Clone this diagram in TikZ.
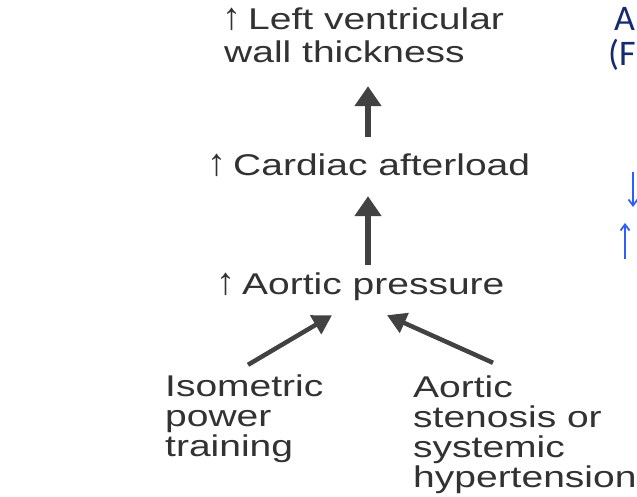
\documentclass[tikz,border=0pt]{standalone}
\usepackage{fontspec}
\setmainfont{Liberation Sans}[FakeStretch=1.3]
\newfontfamily\arrowfont{Liberation Sans}
\newfontfamily\slidefont{Carlito}
\usetikzlibrary{arrows.meta,calc}
\definecolor{ink}{RGB}{50,50,50}
\definecolor{arrowink}{RGB}{66,66,66}
\definecolor{navy}{RGB}{22,42,112}
\definecolor{brightblue}{RGB}{45,95,255}
\newcommand\upar{\makebox[26pt][l]{\arrowfont\fontsize{38}{38}\selectfont ↑}}
\tikzset{
  lbl/.style={anchor=base west, inner sep=0pt, text height=21pt, text depth=0pt,
    text=ink, font=\fontsize{30}{30}\selectfont},
  bigarrow/.style={draw=arrowink, line width=6pt,
    -{Triangle[width=26pt,length=20pt]}},
  diagarrow/.style={draw=arrowink, line width=4.5pt,
    -{Triangle[width=21pt,length=19pt]}},
  bluearrow/.style={draw=brightblue, line width=1.8pt,
    -{Straight Barb[width=9pt,length=6pt,line width=1.8pt]}},
  slide/.style={anchor=base west, inner sep=0pt, text=navy,
    font=\slidefont\fontsize{36}{36}\selectfont}
}
\begin{document}
\begin{tikzpicture}[x=1pt,y=-1pt]
\useasboundingbox (0,0) rectangle (637,497);
\clip (0,0) rectangle (637,497);
\fill[white] (0,0) rectangle (637,497);

\coordinate (ax) at (368,0);

\node[lbl] (lvwt1) at (222,30) {\upar Left ventricular};
\node[lbl] (lvwt2) at (224,63) {wall thickness};
\node[lbl] (afterload) at (207,176) {\upar Cardiac afterload};
\node[lbl] (aortic) at (216,294) {\upar Aortic pressure};

\node[lbl] (iso1) at (165,396) {Isometric};
\node[lbl] (iso2) at (165,426) {power};
\node[lbl] (iso3) at (165,456) {training};

\node[lbl] (sten1) at (413,397) {Aortic};
\node[lbl] (sten2) at (413,427) {stenosis or};
\node[lbl] (sten3) at (413,457) {systemic};
\node[lbl] (sten4) at (413,487) {hypertension};

\draw[bigarrow, shorten <=18pt, shorten >=23pt] (afterload.north -| ax) -- (lvwt2.south -| ax);
\draw[bigarrow, shorten <=8pt, shorten >=20pt] (aortic.north -| ax) -- (afterload.south -| ax);

\draw[diagarrow] ($(iso1.north west)+(83,-10)$) -- ($(aortic.south west)+(116,21)$);
\draw[diagarrow] ($(sten1.north west)+(80,-13)$) -- ($(aortic.south west)+(171,21)$);

\node[slide] (slideA) at (614,31) {A};
\node[slide] (slideF) at (608,66) {(F};

\coordinate (bd1) at (633,172);
\coordinate (bd2) at (633,207);
\coordinate (bu1) at (625,259);
\coordinate (bu2) at (625,223);
\draw[bluearrow] (bd1) -- (bd2);
\draw[bluearrow] (bu1) -- (bu2);
\end{tikzpicture}
\end{document}
